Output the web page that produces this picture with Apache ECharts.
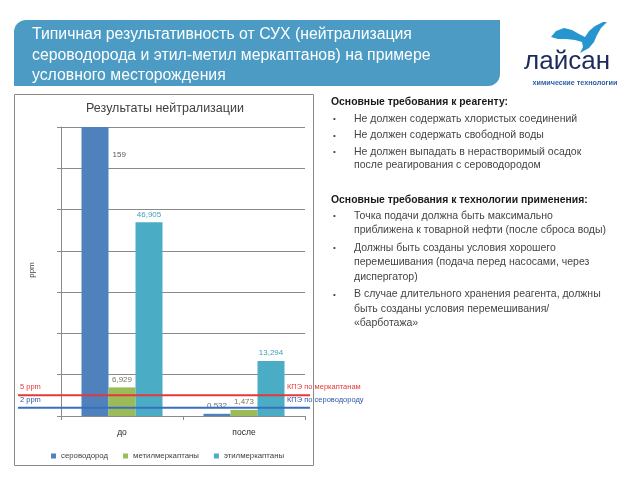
<!DOCTYPE html>
<html>
<head>
<meta charset="utf-8">
<script src="https://cdn.jsdelivr.net/npm/echarts@6/dist/echarts.min.js"></script>
<style>
html,body{margin:0;padding:0;background:#fff;}
#c{width:640px;height:480px;}
</style>
</head>
<body>
<div id="c"></div>
<script>
// ---- data ----
var categories = ['до', 'после'];
var seriesNames = ['сероводород', 'метилмеркаптаны', 'этилмеркаптаны'];
var h2sValues = [159, 0.532];
var methylValues = [6.929, 1.473];
var ethylValues = [46.905, 13.294];
var limitMercaptans = 5;   // ppm
var limitH2S = 2;          // ppm
var yTicks = [0, 10, 20, 30, 40, 50, 60, 70];

var titleLines = [
  'Типичная результативность от СУХ (нейтрализация',
  'сероводорода и этил-метил меркаптанов) на примере',
  'условного месторождения'
];
var reqReagentHeader = 'Основные требования к реагенту:';
var reqReagent = [
  ['Не должен содержать хлористых соединений'],
  ['Не должен содержать свободной воды'],
  ['Не должен выпадать в нерастворимый осадок', 'после реагирования с сероводородом']
];
var reqTechHeader = 'Основные требования к технологии применения:';
var reqTech = [
  ['Точка подачи должна быть максимально', 'приближена к товарной нефти (после сброса воды)'],
  ['Должны быть созданы условия хорошего', 'перемешивания (подача перед насосами, через', 'диспергатор)'],
  ['В случае длительного хранения реагента, должны', 'быть созданы условия перемешивания/', '«барботажа»']
];

var colors = ['#4f81bd', '#9bbb59', '#4bacc6'];
var FONT = 'Liberation Sans';

function fmt(v) { return String(v).replace('.', ','); }

var chart = echarts.init(document.getElementById('c'), null, {renderer: 'canvas'});

var graphics = [];
// title box
graphics.push({type: 'rect', shape: {x: 14, y: 20, width: 486, height: 66, r: [12, 0, 12, 0]},
  style: {fill: '#4b9bc5'}, z: 0});
titleLines.forEach(function (t, i) {
  graphics.push({type: 'text', x: 32, y: 35 + i * 20.5, style: {text: t, fill: '#ffffff',
    font: '15.8px "' + FONT + '"', textVerticalAlign: 'middle'}, z: 1});
});
// chart frame
graphics.push({type: 'rect', shape: {x: 14.5, y: 94.5, width: 299, height: 371},
  style: {fill: 'none', stroke: '#8a8a8a', lineWidth: 1}, z: 0});
// chart title
graphics.push({type: 'text', x: 165, y: 109, style: {text: 'Результаты нейтрализации', fill: '#404040',
  font: '12.5px "' + FONT + '"', textAlign: 'center', textVerticalAlign: 'middle'}});
// ppm
graphics.push({type: 'text', x: 32, y: 270, rotation: Math.PI / 2, style: {text: 'ppm', fill: '#404040',
  font: '8px "' + FONT + '"', textAlign: 'center', textVerticalAlign: 'middle'}});

// right side texts
function addHeader(t, y) {
  graphics.push({type: 'text', x: 331, y: y, style: {text: t, fill: '#1a1a1a',
    font: 'bold 10.4px "' + FONT + '"', textVerticalAlign: 'middle'}});
}
function addBullets(list, y0, gapLine, gapItem) {
  var y = y0;
  list.forEach(function (lines) {
    graphics.push({type: 'text', x: 333, y: y, style: {text: '•', fill: '#404040',
      font: '8px "' + FONT + '"', textVerticalAlign: 'middle'}});
    lines.forEach(function (l, j) {
      graphics.push({type: 'text', x: 354, y: y + j * gapLine, style: {text: l, fill: '#454545',
        font: '10.5px "' + FONT + '"', textVerticalAlign: 'middle'}});
    });
    y += (lines.length - 1) * gapLine + gapItem;
  });
}
addHeader(reqReagentHeader, 102);
addBullets(reqReagent, 119, 13, 16.5);
addHeader(reqTechHeader, 200);
addBullets(reqTech, 216, 14.5, 17.5);

// logo
graphics.push({type: 'polygon', shape: {points: [
  [551, 37], [556, 31], [564, 28], [572, 30], [579, 34], [585, 37], [589, 31], [595, 26], [603, 22], [607, 22],
  [601, 28], [597, 35], [594, 42], [589, 48], [580, 53], [583, 47], [582, 42], [575, 40], [566, 39], [558, 39]
]}, style: {fill: '#2796cf'}});
graphics.push({type: 'text', x: 567, y: 62, style: {text: 'лайсан', fill: '#1d2a5c',
  font: '26px "' + FONT + '"', textAlign: 'center', textVerticalAlign: 'middle'}});
graphics.push({type: 'text', x: 575, y: 83, style: {text: 'химические технологии', fill: '#2e5fa8',
  font: 'bold 7.2px "' + FONT + '"', textAlign: 'center', textVerticalAlign: 'middle'}});

var labelColors = ['#5b6b82', '#6f7b5d', '#3f9fba'];
function barSeries(idx, values) {
  return {
    name: seriesNames[idx], type: 'bar', xAxisIndex: 0, yAxisIndex: 0,
    barWidth: 27, barGap: '0%',
    itemStyle: {color: colors[idx]},
    label: {show: true, position: 'top', distance: 4, fontSize: 8, fontFamily: FONT,
      color: labelColors[idx], formatter: function (p) { return fmt(p.value); }},
    data: values.map(function (v, i) {
      if (idx === 0 && i === 0) {
        return {value: v, label: {position: [31, 24], color: '#595959'}};
      }
      return v;
    })
  };
}

var option = {
  animation: false,
  textStyle: {fontFamily: FONT},
  grid: [
    {left: 61, top: 127, width: 244, height: 289},
    {left: 18, top: 127, width: 292, height: 289}
  ],
  xAxis: [
    {type: 'category', gridIndex: 0, data: categories,
      axisLine: {lineStyle: {color: '#8a8a8a'}},
      axisTick: {show: true, length: 4, lineStyle: {color: '#8a8a8a'}},
      axisLabel: {color: '#262626', fontSize: 8.5, margin: 12}},
    {type: 'value', gridIndex: 1, min: 0, max: 1, show: false}
  ],
  yAxis: [
    {type: 'value', gridIndex: 0, min: yTicks[0], max: yTicks[yTicks.length - 1], interval: 10,
      axisLine: {show: true, lineStyle: {color: '#8a8a8a'}},
      axisTick: {show: true, length: 4, lineStyle: {color: '#8a8a8a'}},
      axisLabel: {show: false},
      splitLine: {show: true, lineStyle: {color: '#8a8a8a', width: 1}}},
    {type: 'value', gridIndex: 1, min: yTicks[0], max: yTicks[yTicks.length - 1], show: false}
  ],
  legend: {
    data: seriesNames, left: 46, top: 447, icon: 'rect', itemWidth: 5, itemHeight: 5, itemGap: 15,
    textStyle: {fontSize: 7.8, color: '#404040', fontFamily: FONT}
  },
  series: [
    barSeries(0, h2sValues),
    barSeries(1, methylValues),
    barSeries(2, ethylValues),
    {name: 'КПЭ по меркаптанам', type: 'line', xAxisIndex: 1, yAxisIndex: 1, symbol: 'none',
      lineStyle: {color: '#e5383b', width: 2}, data: [[0, limitMercaptans], [1, limitMercaptans]], z: 5},
    {name: 'КПЭ по сероводороду', type: 'line', xAxisIndex: 1, yAxisIndex: 1, symbol: 'none',
      lineStyle: {color: '#3a6cc0', width: 2}, data: [[0, limitH2S], [1, limitH2S]], z: 5}
  ],
  graphic: graphics
};
chart.setOption(option);

// labels of limit lines, positioned through the value scale
var yM = chart.convertToPixel({yAxisIndex: 1}, limitMercaptans);
var yH = chart.convertToPixel({yAxisIndex: 1}, limitH2S);
var lineLabels = [
  {text: limitMercaptans + ' ppm', x: 20, y: yM - 8, fill: '#e5383b'},
  {text: 'КПЭ по меркаптанам', x: 287, y: yM - 8, fill: '#e5383b'},
  {text: limitH2S + ' ppm', x: 20, y: yH - 8, fill: '#2f55a8'},
  {text: 'КПЭ по сероводороду', x: 287, y: yH - 8, fill: '#2f55a8'}
];
var extra = graphics.concat(lineLabels.map(function (l) {
  return {type: 'text', x: l.x, y: l.y, z: 10, style: {text: l.text, fill: l.fill,
    font: '7.5px "' + FONT + '"', textVerticalAlign: 'middle'}};
}));
chart.setOption({graphic: extra});
</script>
</body>
</html>
